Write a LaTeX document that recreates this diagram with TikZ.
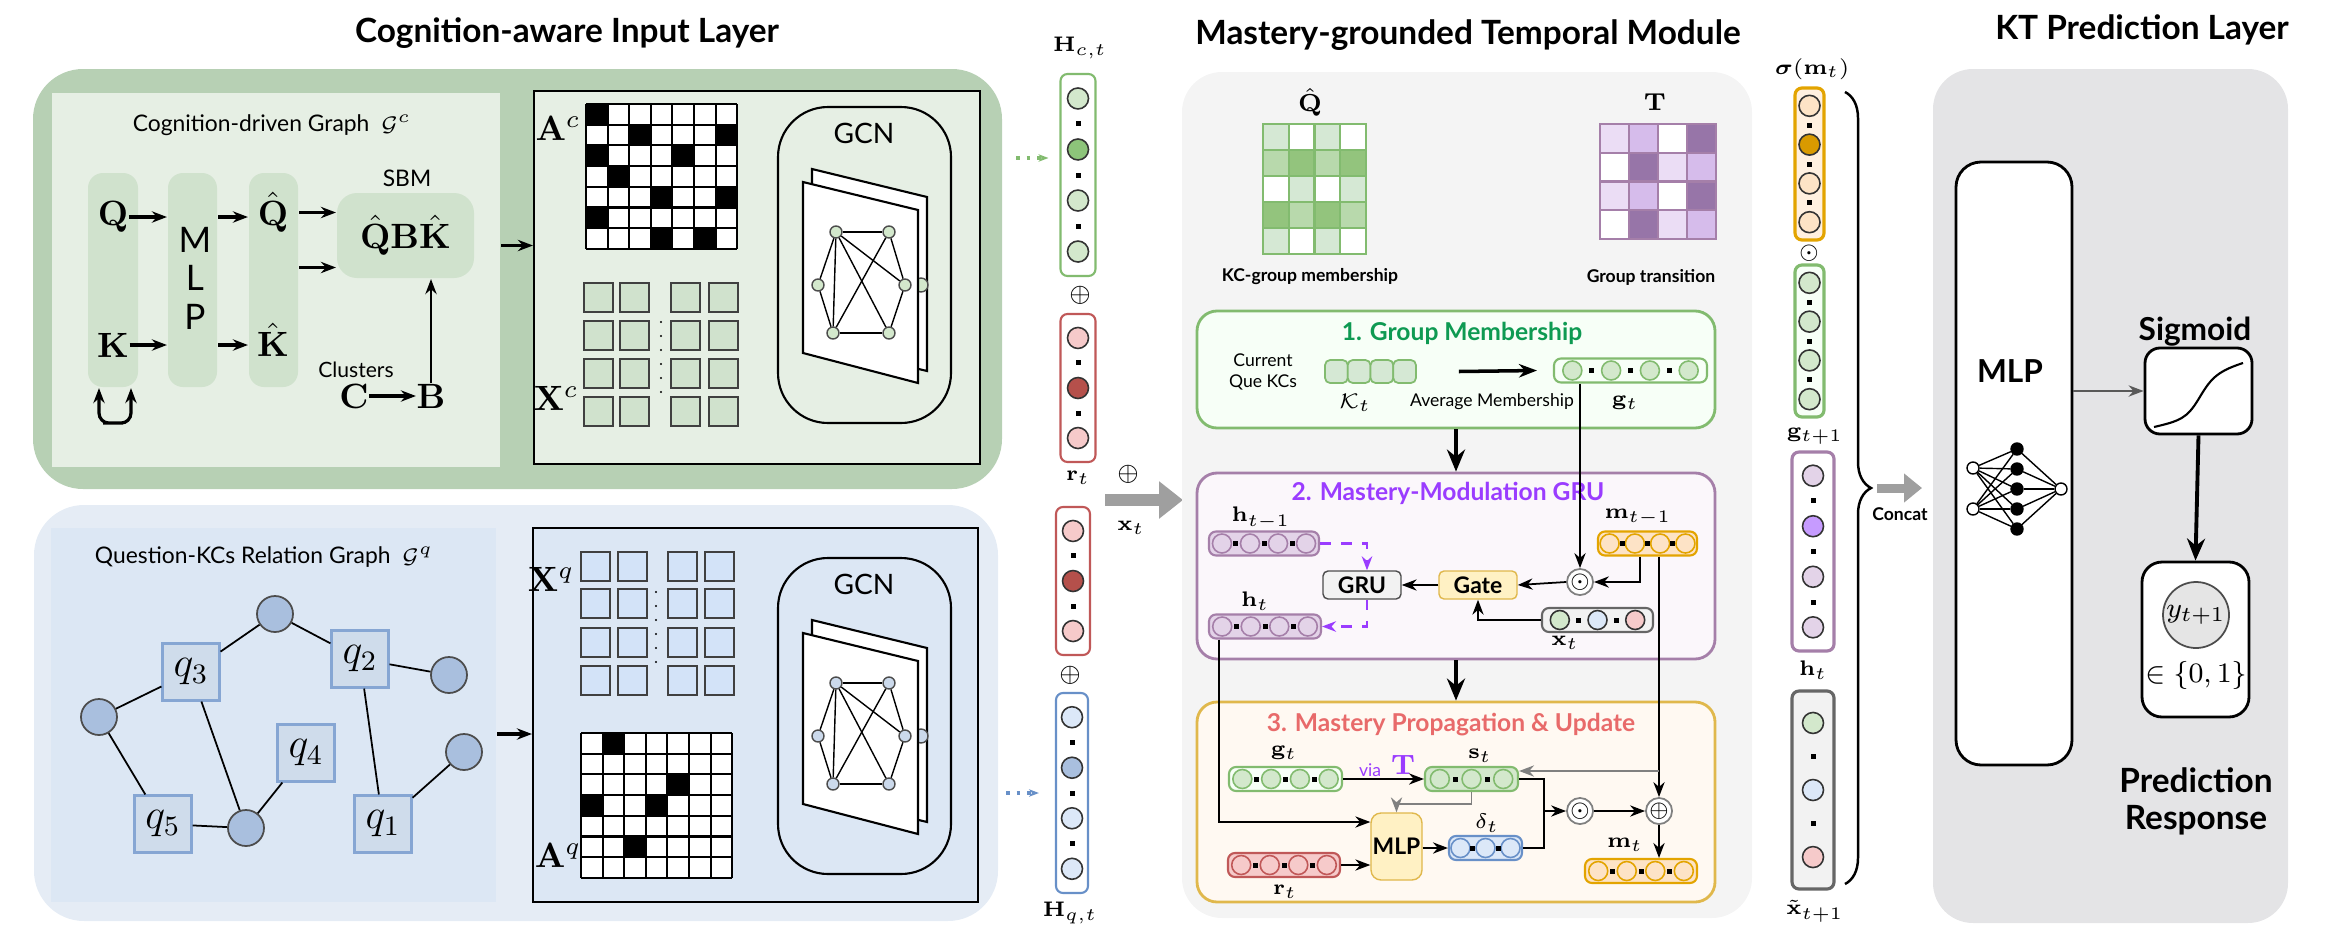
\documentclass[tikz,border=0pt]{standalone}
\usepackage{amsmath,amssymb}
\usepackage[no-math]{fontspec}
\setmainfont{Lato}
\usetikzlibrary{positioning,calc,arrows.meta,decorations.pathreplacing}

\definecolor{gOut}{HTML}{B7D0B4}
\definecolor{gIn}{HTML}{E6EFE4}
\definecolor{gCol}{HTML}{D0E2CD}
\definecolor{bOut}{HTML}{E5ECF5}
\definecolor{bIn}{HTML}{DCE7F4}
\definecolor{bNode}{HTML}{A9BFDE}
\definecolor{bSq}{HTML}{CFDCEB}
\definecolor{bCell}{HTML}{D3E3F8}
\definecolor{midBg}{HTML}{F4F4F4}
\definecolor{rightBg}{HTML}{E4E4E6}
\definecolor{oneC}{HTML}{0E9A52}
\definecolor{twoC}{HTML}{9A3CFF}
\definecolor{threeC}{HTML}{E86A6A}
\definecolor{vG}{HTML}{82BB6F}
\definecolor{cG}{HTML}{D3E8CC}
\definecolor{cGd}{HTML}{8DC47A}
\definecolor{vR}{HTML}{C05858}
\definecolor{cR}{HTML}{F6CACA}
\definecolor{cRd}{HTML}{B5504B}
\definecolor{vB}{HTML}{6890C8}
\definecolor{cB}{HTML}{DCE8F8}
\definecolor{vP}{HTML}{A57FA9}
\definecolor{cP}{HTML}{E3D3E8}
\definecolor{cPd}{HTML}{C69BFF}
\definecolor{vO}{HTML}{E3A400}
\definecolor{cO}{HTML}{FDE3C6}
\definecolor{cOd}{HTML}{D99A00}
\definecolor{yBox}{HTML}{FFF1C4}
\definecolor{yLine}{HTML}{E0B84C}
\definecolor{qL}{HTML}{D5E8D4}
\definecolor{qM}{HTML}{B8D9AC}
\definecolor{qD}{HTML}{93C47D}
\definecolor{tL}{HTML}{EBDDF5}
\definecolor{tM}{HTML}{D6BCEB}
\definecolor{tD}{HTML}{9775A8}

\newcommand\fsz[1]{\fontsize{#1}{#1}\selectfont}

\tikzset{
  arr/.style={-{Stealth[length=1.5mm]},line width=0.5pt},
  garr/.style={-{Stealth[length=1.5mm]},line width=0.5pt,gray},
  barr/.style={-{Stealth[length=2.2mm,width=1.8mm]},line width=1.1pt},
  darr/.style={-{Stealth[length=1.4mm]},line width=0.6pt,dashed,twoC},
  panel/.style={rectangle,inner sep=0,line width=0.6pt},
  vecbox/.style={rectangle,rounded corners=0.7mm,inner sep=0,line width=0.6pt,minimum height=2.4mm},
  cell/.style={circle,draw,inner sep=0,minimum size=1.9mm,line width=0.45pt},
  sqdot/.style={rectangle,fill=black,inner sep=0,minimum size=0.5mm},
  lbl/.style={inner sep=0,font=\fsz{6.5}},
  sect/.style={inner sep=0,font={\fsz{7}\bfseries}},
  big/.style={inner sep=0,font=\fsz{10}},
  xcell/.style={line width=0.7pt,draw=black!75},
  gnode/.style={circle,draw=black!70,inner sep=0,minimum size=1.2mm,line width=0.4pt},
  kcn/.style={circle,draw=black!70,fill=bNode,inner sep=0,minimum size=3.6mm,line width=0.5pt},
  qsq/.style={rectangle,draw=vB!80,fill=bSq,inner sep=0,minimum size=5.7mm,line width=0.6pt,font=\fsz{12}},
  opnode/.style={circle,draw=gray,fill=white,inner sep=0,minimum size=2.4mm,line width=0.5pt},
  nnd/.style={circle,draw=black,inner sep=0,minimum size=1.2mm,line width=0.4pt},
}

% horizontal vector: name, centre, width (mm), box style, circle style, fills
\newcommand\hvec[6]{%
  \node (#1) [vecbox,#4,minimum width=#3mm] at #2 {};
  \foreach \f [count=\i] in {#6} {\xdef\nv{\i}}
  \foreach \f [count=\i] in {#6} {\node[cell,#5,fill=\f] at ($(#1.west)!{(\i-0.5)/\nv}!(#1.east)$) {};}
  \pgfmathtruncatemacro\nm{\nv-1}
  \foreach \i in {1,...,\nm} {\node[sqdot] at ($(#1.west)!{\i/\nv}!(#1.east)$) {};}
}
% vertical vector: name, centre, height (mm), box style, circle style, fills
\newcommand\vvec[6]{%
  \node (#1) [vecbox,#4,minimum height=#3mm] at #2 {};
  \foreach \f [count=\i] in {#6} {\xdef\nv{\i}}
  \foreach \f [count=\i] in {#6} {\node[cell,#5,minimum size=2.1mm,fill=\f] at ($(#1.north)!{(\i-0.5)/\nv}!(#1.south)$) {};}
  \pgfmathtruncatemacro\nm{\nv-1}
  \foreach \i in {1,...,\nm} {\node[sqdot] at ($(#1.north)!{\i/\nv}!(#1.south)$) {};}
}
% adjacency matrix: x0, y0, black cells
\newcommand\admat[3]{%
  \fill[white] (#1,#2) rectangle ++(151,145);
  \foreach \r/\c in {#3} \fill ({#1+(\c-1)*21.6},{#2+(\r-1)*20.7}) rectangle ++(21.6,20.7);
  \foreach \k in {0,...,7} {\draw[line width=0.6pt] ({#1+\k*21.6},#2) -- ++(0,145);
    \draw[line width=0.6pt] (#1,{#2+\k*20.7}) -- ++(151,0);}
}
% GCN block: prefix, vertical offset, node fill
\newcommand\gcn[3]{%
  \begin{scope}[shift={(0,#2)}]
  \node (#1) [panel,draw,rounded corners=5mm,minimum width=17.3mm,minimum height=31.6mm] at (864.5,265) {};
  \node at (864,133) {\fsz{8}GCN};
  \draw[fill=white,line width=0.6pt] (812,169) -- (927,197) -- (927,371) -- (812,343) -- cycle;
  \node[gnode,fill=#3,minimum size=1.4mm] at (921,285) {};
  \draw[fill=white,line width=0.6pt] (803,182) -- (918,210) -- (918,383) -- (803,353) -- cycle;
  \node (#1n1) [gnode,fill=#3] at (836,232) {};
  \node (#1n2) [gnode,fill=#3] at (889,232) {};
  \node (#1n3) [gnode,fill=#3] at (818,285) {};
  \node (#1n4) [gnode,fill=#3] at (905,285) {};
  \node (#1n5) [gnode,fill=#3] at (833,333) {};
  \node (#1n6) [gnode,fill=#3] at (889,333) {};
  \foreach \a/\b in {1/2,5/6,1/3,3/5,2/4,4/6,1/4,1/6,1/5,2/5}
    \draw[line width=0.4pt] (#1n\a) -- (#1n\b);
  \end{scope}
}

\begin{document}
\begin{tikzpicture}[x=0.1mm,y=-0.1mm]
\useasboundingbox (0,0) rectangle (2350,937);

% ---------- titles
\node at (567,33) {\fsz{9.5}\bfseries Cognition-aware Input Layer};
\node at (1468,35) {\fsz{9.5}\bfseries Mastery-grounded Temporal Module};
\node at (2142,30) {\fsz{9.5}\bfseries KT Prediction Layer};

% ---------- cognition-driven graph
\node (cout) [panel,fill=gOut,rounded corners=5mm,minimum width=96.9mm,minimum height=42mm] at (517.5,279) {};
\node (cinl) [panel,fill=gIn,minimum width=44.8mm,minimum height=37.4mm] at (276,280) {};
\node (cinr) [panel,fill=gIn,draw,minimum width=44.6mm,minimum height=37.3mm] at (757,277.5) {};
\node at (272,125) {\fsz{6.5}Cognition-driven Graph\ \ $\mathcal{G}^c$};
\node (qcol) [panel,fill=gCol,rounded corners=1.5mm,minimum width=5mm,minimum height=21.4mm] at (113,280) {};
\node (mlpc) [panel,fill=gCol,rounded corners=1.5mm,minimum width=4.9mm,minimum height=21.4mm] at (192.5,280) {};
\node (qhc) [panel,fill=gCol,rounded corners=1.5mm,minimum width=4.9mm,minimum height=21.4mm] at (273.5,280) {};
\node (Q) [big] at (113,217) {$\mathbf{Q}$};
\node (K) [big] at (113,345) {$\mathbf{K}$};
\node [big] at (195,240) {M};
\node [big] at (195,278) {L};
\node [big] at (195,317) {P};
\node (Qh) [big] at (273,212) {$\hat{\mathbf{Q}}$};
\node (Kh) [big] at (273,340) {$\hat{\mathbf{K}}$};
\node (sbm) [panel,fill=gCol,rounded corners=2mm,minimum width=13.7mm,minimum height=8.5mm] at (405.5,235.5) {\fsz{10}$\hat{\mathbf{Q}}\mathbf{B}\hat{\mathbf{K}}$};
\node at (407,178) {\fsz{6.5}SBM};
\node at (356,370) {\fsz{6}Clusters};
\node (C) [big] at (354,396) {$\mathbf{C}$};
\node (B) [big] at (431,396) {$\mathbf{B}$};
\draw[arr,line width=1.1pt] (Q.east) -- (mlpc.west |- Q.east);
\draw[arr,line width=1.1pt] (K.east) -- (mlpc.west |- K.east);
\draw[arr,line width=1.1pt] (mlpc.east |- Q.east) -- (qhc.west |- Q.east);
\draw[arr,line width=1.1pt] (mlpc.east |- K.east) -- (qhc.west |- K.east);
\coordinate (s1) at ([yshift=2.3mm]sbm.west);
\coordinate (s2) at ([yshift=-3.2mm]sbm.west);
\draw[arr,line width=1.1pt] (s1 -| qhc.east) -- (s1);
\draw[arr,line width=1.1pt] (s2 -| qhc.east) -- (s2);
\draw[arr,line width=1.1pt] (C) -- (B);
\draw[arr,line width=0.7pt] (B) -- (B |- sbm.south);
\draw[{Stealth[length=1.5mm]}-{Stealth[length=1.5mm]},line width=0.9pt,rounded corners=1mm]
  ([xshift=-1.4mm]qcol.south) |- ($(qcol.south)+(0,35)$) -| ([xshift=1.8mm]qcol.south);
\coordinate (c1) at ([yshift=-1mm]sbm.east);
\draw[arr,line width=1.1pt] (c1 -| cinl.east) -- (c1 -| cinr.west);
\node at (558,128) {\fsz{10}$\mathbf{A}^c$};
\admat{586}{104}{1/1,2/3,2/7,3/1,3/5,4/2,5/4,5/7,6/1,7/4,7/6}
\foreach \x in {584,620,671,709} \foreach \y in {283,321,359,397}
  \draw[xcell,fill=gCol] (\x,\y) rectangle ++(29,29);
\foreach \y in {322,336,350,364,378,392} \fill (661,\y) circle (0.12mm);
\node at (556,398) {\fsz{10}$\mathbf{X}^c$};
\gcn{gc}{0}{cG}

% ---------- question-KC graph
\node (qout) [panel,fill=bOut,rounded corners=5mm,minimum width=96.4mm,minimum height=41.6mm] at (516,713) {};
\node (qinl) [panel,fill=bIn,minimum width=44.5mm,minimum height=37.4mm] at (273.5,715) {};
\node (qinr) [panel,fill=bIn,draw,minimum width=44.5mm,minimum height=37.4mm] at (755.5,715) {};
\node at (264,557) {\fsz{6.5}Question-KCs Relation Graph\ \ $\mathcal{G}^q$};
\node (k1) [kcn] at (275,614) {};
\node (k2) [kcn] at (449,675) {};
\node (k3) [kcn] at (99,717) {};
\node (k4) [kcn] at (464,752) {};
\node (k5) [kcn] at (246,828) {};
\node (q3) [qsq] at (191,672) {$q_3$};
\node (q2) [qsq] at (360,659) {$q_2$};
\node (q4) [qsq] at (306,753) {$q_4$};
\node (q5) [qsq] at (163,824) {$q_5$};
\node (q1) [qsq] at (383,824) {$q_1$};
\foreach \a/\b in {q3/k1,k1/q2,q2/k2,k3/q3,k3/q5,q3/k5,q5/k5,k5/q4,q2/q1,q1/k4}
  \draw[line width=0.5pt] (\a) -- (\b);
\draw[arr,line width=1.1pt] (qinl.east |- 0,734) -- (qinr.west |- 0,734);
\foreach \x in {581,618,668,705} \foreach \y in {552,589,628,666}
  \draw[xcell,fill=bCell] (\x,\y) rectangle ++(29,29);
\foreach \y in {592,606,620,634,648,662} \fill (656,\y) circle (0.12mm);
\node at (551,579) {\fsz{10}$\mathbf{X}^q$};
\admat{581}{733}{1/2,3/5,4/1,4/4,6/3}
\node at (558,855) {\fsz{10}$\mathbf{A}^q$};
\gcn{gq}{451}{bNode!60}

% ---------- input vectors
\vvec{hc}{(1078,175)}{20.2}{draw=vG,fill=white,minimum width=3.5mm}{draw=black!80}{cG,cGd,cG,cG}
\node at (1080,48) {\fsz{6.5}$\mathbf{H}_{c,t}$};
\node at (1080,295) {\fsz{7}$\oplus$};
\vvec{rt1}{(1078,388)}{14.8}{draw=vR,fill=white,minimum width=3.5mm}{draw=black!80}{cR,cRd,cR}
\node at (1078,478) {\fsz{6.5}$\mathbf{r}_t$};
\vvec{rt2}{(1073,581)}{14.8}{draw=vR,fill=white,minimum width=3.4mm}{draw=black!80}{cR,cRd,cR}
\node at (1070,675) {\fsz{7}$\oplus$};
\vvec{hq}{(1072,793)}{20}{draw=vB,fill=white,minimum width=3.2mm}{draw=black!80}{cB,bNode,cB,cB}
\node at (1070,913) {\fsz{6.5}$\mathbf{H}_{q,t}$};
\draw[-{Stealth[length=1mm]},dotted,line width=1pt,vG] ([xshift=1.3mm]cout.east |- 0,158) -- ([xshift=-1.1mm]hc.west |- 0,158);
\draw[-{Stealth[length=1mm]},dotted,line width=1pt,vB] ([xshift=0.7mm]qout.east |- hq) -- ([xshift=-1.6mm]hq.west);
\node at (1128,474) {\fsz{7}$\oplus$};
\coordinate (xa) at (1105,500);
\draw[-{Triangle[length=2.4mm,width=3.6mm]},line width=1.2mm,gray!75] (xa) -- ++(78,0);
\node at (1131,528) {\fsz{6.5}$\mathbf{x}_t$};

% ---------- temporal module
\node (mid) [panel,fill=midBg,rounded corners=4mm,minimum width=57mm,minimum height=84.6mm] at (1467,495) {};
\node at (1310,102) {\fsz{7.5}$\hat{\mathbf{Q}}$};
\foreach \clr [count=\k] in {qL,white,qL,white,qM,qD,qM,qD,white,qL,white,qL,qD,qM,qD,qM,qL,white,qL,white} {
  \pgfmathtruncatemacro\cc{mod(\k-1,4)}
  \pgfmathtruncatemacro\rr{int((\k-1)/4)}
  \draw[fill=\clr,draw=vG,line width=0.6pt] ({1263+\cc*25.75},{124+\rr*26}) rectangle ++(25.75,26);
}
\node at (1310,277) {\fsz{5}\bfseries KC-group membership};
\node at (1655,102) {\fsz{7.5}$\mathbf{T}$};
\foreach \clr [count=\k] in {tL,tM,white,tD,white,tD,tL,tM,tL,tM,white,tD,white,tD,tL,tM} {
  \pgfmathtruncatemacro\cc{mod(\k-1,4)}
  \pgfmathtruncatemacro\rr{int((\k-1)/4)}
  \draw[fill=\clr,draw=vP,line width=0.6pt] ({1600+\cc*29},{124+\rr*28.75}) rectangle ++(29,28.75);
}
\node at (1651,277) {\fsz{5}\bfseries Group transition};

% 1. group membership
\node (b1) [panel,draw=vG,fill=green!3,rounded corners=2mm,minimum width=51.8mm,minimum height=11.7mm,line width=0.8pt] at (1456,369.5) {};
\node [sect,text=oneC] at (1462,333) {1. Group Membership};
\node [align=center,font=\fsz{5},inner sep=0] at (1263,372) {Current\\[1pt]Que KCs};
\foreach \x [count=\k] in {1336.4,1359.1,1381.9,1404.6}
  \node (kc\k) [rectangle,rounded corners=0.5mm,draw=vG,fill=qL,inner sep=0,minimum width=2.27mm,minimum height=2.3mm,line width=0.5pt] at (\x,371.5) {};
\node [lbl] at (1355,403) {$\mathcal{K}_t$};
\hvec{gt}{(1630.5,370.5)}{15.3}{draw=vG,fill=green!3}{draw=vG}{cG,cG,cG,cG}
\node [lbl] at (1625,403) {$\mathbf{g}_t$};
\draw[-{Stealth[length=1.8mm]},line width=1pt] ([xshift=4.2mm]kc4.east) -- ([xshift=-1.6mm]gt.west);
\node [inner sep=0,font=\fsz{5}] at (1492,402) {Average Membership};

% 2. mastery-modulation GRU
\node (b2) [panel,draw=vP,fill=violet!3,rounded corners=2mm,minimum width=51.8mm,minimum height=18.6mm,line width=0.8pt] at (1456,566) {};
\node [sect,text=twoC] at (1448,493) {2. Mastery-Modulation GRU};
\hvec{hprev}{(1264,543.5)}{11}{draw=vP,fill=cP}{draw=vP}{cP,cP,cP,cP}
\node [lbl] at (1261,518) {$\mathbf{h}_{t-1}$};
\hvec{ht}{(1265,626.5)}{11.2}{draw=vP,fill=cP}{draw=vP}{cP,cP,cP,cP}
\node [lbl] at (1255,601) {$\mathbf{h}_t$};
\hvec{mprev}{(1647.5,543.5)}{9.9}{draw=vO,fill=cO}{draw=vO}{cO,cO,cO,cO}
\node [lbl] at (1638,517) {$\mathbf{m}_{t-1}$};
\hvec{xt}{(1597.5,620)}{11.1}{draw=black!60,fill=black!5}{draw=black!80}{cG,cB,cR}
\node [lbl] at (1565,643) {$\mathbf{x}_t$};
\node (gru) [rectangle,rounded corners=0.5mm,draw=black!70,fill=black!5,minimum width=7.8mm,minimum height=2.8mm,inner sep=0,font={\fsz{6.5}\bfseries}] at (1362,585) {GRU};
\node (gate) [rectangle,rounded corners=0.5mm,draw=yLine,fill=yBox,minimum width=7.8mm,minimum height=2.8mm,inner sep=0,font={\fsz{6.5}\bfseries}] at (1478,585) {Gate};
\node (odot) [opnode] at (1580,582) {\fsz{6}$\odot$};
\draw[arr] (odot |- gt.south) -- (odot.north);
\draw[arr] ([xshift=-0.75mm]mprev.south) |- (odot.east);
\draw[arr] (odot.west) -- (gate.east);
\draw[arr] (gate.west) -- (gru.east);
\draw[arr] (xt.west) -| (gate.south);
\draw[darr] (hprev.east) -| ([xshift=0.5mm]gru.north);
\draw[darr] ([xshift=0.5mm]gru.south) |- (ht.east);
\draw[barr] (b1.south) -- (b2.north);

% 3. mastery propagation & update
\node (b3) [panel,draw=yLine,fill=orange!5,rounded corners=2mm,minimum width=51.8mm,minimum height=20mm,line width=0.8pt] at (1456,802) {};
\node [sect,text=threeC] at (1451,725) {3. Mastery Propagation \& Update};
\draw[barr] (b2.south) -- (b3.north);
\hvec{g3}{(1285.5,779)}{11.3}{draw=vG,fill=green!3}{draw=vG}{cG,cG,cG,cG}
\node [lbl] at (1284,753) {$\mathbf{g}_t$};
\hvec{st}{(1471.5,779)}{9.3}{draw=vG,fill=cG}{draw=vG}{cG,cG,cG}
\node [lbl] at (1480,756) {$\mathbf{s}_t$};
\node [inner sep=0,font=\fsz{5},text=twoC] at (1370,770) {via};
\node [inner sep=0,font=\fsz{8},text=twoC] at (1403,765) {$\mathbf{T}$};
\hvec{r3}{(1284,865)}{11.2}{draw=vR,fill=cR}{draw=vR}{cR,cR,cR,cR}
\node [lbl] at (1285,892) {$\mathbf{r}_t$};
\hvec{delta}{(1485.5,848)}{7.3}{draw=vB,fill=cB}{draw=vB}{cB,cB,cB}
\node [lbl] at (1487,823) {$\delta_t$};
\hvec{mt}{(1641,871)}{11.2}{draw=vO,fill=cO}{draw=vO}{cO,cO,cO,cO}
\node [lbl] at (1625,845) {$\mathbf{m}_t$};
\node (mlp3) [rectangle,rounded corners=1mm,draw=yLine,fill=yBox,minimum width=5.1mm,minimum height=6.7mm,inner sep=0,font={\fsz{6.5}\bfseries}] at (1396.5,846.5) {MLP};
\node (odot2) [opnode] at (1580,811) {\fsz{6}$\odot$};
\node (oplus) [opnode] at (1659,811) {\fsz{6}$\oplus$};
\draw[arr] (g3.east) -- (st.west);
\draw[garr] (st.south) |- ++(0,12) -| (mlp3.north);
\draw[arr] ([xshift=-4.6mm]ht.south) |- ([yshift=2.45mm]mlp3.west);
\draw[arr] (r3.east) -- (mlp3.west |- r3.east);
\draw[arr] (mlp3.east |- delta) -- (delta.west);
\coordinate (jn) at (1544,811);
\draw[line width=0.6pt] (st.east) -| (jn);
\draw[line width=0.6pt] (delta.east) -| (jn);
\draw[arr] (jn) -- (odot2.west);
\draw[arr] (odot2) -- (oplus);
\draw[arr] (oplus |- mprev.south) -- (oplus.north);
\coordinate (tap) at (1659,771);
\draw[garr] (tap) -- (st.east |- tap);
\draw[arr] (oplus.south) -- (mt.north -| oplus);

% ---------- concatenated state
\vvec{sm}{(1809.5,164)}{15.2}{draw=vO,fill=orange!12,minimum width=2.9mm,line width=0.9pt}{draw=black!80}{cO,cOd,cO,cO}
\node [lbl] at (1812,69) {$\boldsymbol{\sigma}(\mathbf{m}_t)$};
\node at (1809,253) {\fsz{6}$\odot$};
\vvec{g1}{(1809.5,341)}{15.2}{draw=vG,fill=green!3,minimum width=2.9mm,line width=0.9pt}{draw=black!80}{cG,cG,cG,cG}
\node [lbl] at (1815,436) {$\mathbf{g}_{t+1}$};
\vvec{hv}{(1813,551.5)}{19.9}{draw=vP,fill=white,minimum width=4.2mm,line width=0.9pt}{draw=black!80}{cP,cPd,cP,cP}
\node [lbl] at (1813,670) {$\mathbf{h}_t$};
\vvec{xv}{(1813,790)}{19.8}{draw=black!60,fill=black!5,minimum width=4.2mm,line width=0.9pt}{draw=black!80}{cG,cB,cR}
\node [lbl] at (1815,911) {$\tilde{\mathbf{x}}_{t+1}$};
\coordinate (braceT) at (1845,92);
\coordinate (braceB) at (1845,884);
\draw[decorate,decoration={brace,amplitude=2.6mm},line width=0.7pt] (braceT) -- (braceB);
\draw[-{Triangle[length=1.8mm,width=2.8mm]},line width=0.9mm,gray!75] (1877,488) -- (1922,488);
\node at (1900,514) {\fsz{5}\bfseries Concat};

% ---------- prediction layer
\node (rp) [panel,fill=rightBg,rounded corners=4mm,minimum width=35.5mm,minimum height=85.4mm] at (2110.5,496) {};
\node (mlpR) [panel,draw=black,fill=white,rounded corners=2.5mm,minimum width=11.6mm,minimum height=60.3mm,line width=0.8pt] at (2014,463.5) {};
\node at (2010,371) {\fsz{9}\bfseries MLP};
\node (ni1) [nnd,fill=white] at (1973,468) {};
\node (ni2) [nnd,fill=white] at (1973,509) {};
\foreach \y [count=\k] in {449,469,489,509,529} \node (nh\k) [nnd,fill=black] at (2017,\y) {};
\node (no) [nnd,fill=white] at (2061,489) {};
\foreach \a in {ni1,ni2} \foreach \b in {nh1,nh2,nh3,nh4,nh5} \draw[line width=0.4pt] (\a) -- (\b);
\foreach \b in {nh1,nh2,nh3,nh4,nh5} \draw[line width=0.4pt] (\b) -- (no);
\node (sig) [panel,draw=black,fill=white,rounded corners=1.5mm,minimum width=10.7mm,minimum height=8.6mm,line width=0.8pt] at (2198.5,391) {};
\draw[line width=0.6pt] (2154,427) .. controls (2180,421) and (2187,418) .. (2198,400) .. controls (2210,380) and (2215,372) .. (2243,363);
\node at (2195,332) {\fsz{9}\bfseries Sigmoid};
\draw[-{Stealth[length=1.5mm]},line width=0.6pt,black!65] (mlpR.east |- sig) -- (sig.west);
\node (pred) [panel,draw=black,fill=white,rounded corners=2mm,minimum width=10.7mm,minimum height=15.5mm,line width=0.8pt] at (2195.5,639.5) {};
\draw[barr] (sig.south) -- (pred.north);
\node (yt) [circle,draw=black!70,fill=black!10,inner sep=0,minimum size=6.6mm,line width=0.5pt] at (2196,615) {\fsz{8}$y_{t+1}$};
\node at (2196,675) {\fsz{8}$\in\{0,1\}$};
\node [align=center,font={\fsz{9.5}\bfseries}] at (2196,801) {Prediction\\[1pt]Response};
\end{tikzpicture}
\end{document}
